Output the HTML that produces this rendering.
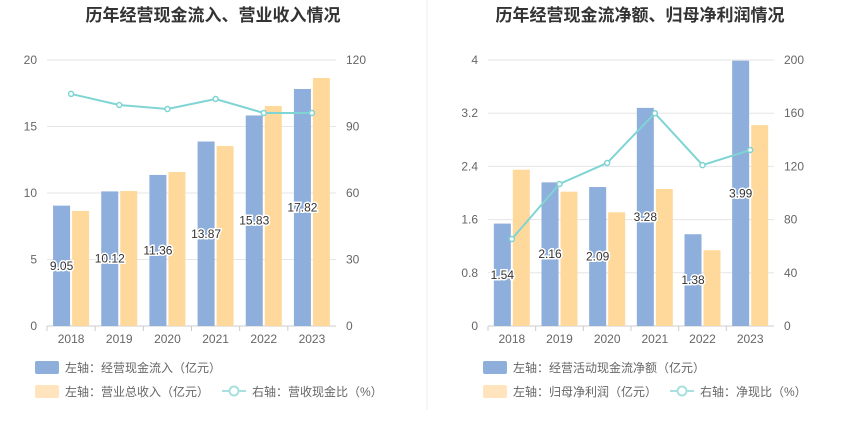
<!DOCTYPE html>
<html><head><meta charset="utf-8"><style>
html,body{margin:0;padding:0;background:#fff;}
svg{display:block;font-family:"Liberation Sans","Noto Sans CJK SC",sans-serif;}
</style></head><body>
<svg id="c" width="850" height="437" xmlns="http://www.w3.org/2000/svg">
<line x1="427" y1="0" x2="427" y2="410" stroke="#eeeeee"/>
<text x="213" y="21" text-anchor="middle" font-size="17" font-weight="bold" fill="#333">历年经营现金流入、营业收入情况</text>
<text x="640" y="21" text-anchor="middle" font-size="17" font-weight="bold" fill="#333">历年经营现金流净额、归母净利润情况</text>
<g id="g1"></g><g id="g2"></g>
</svg>
<script>
const years = ["2018","2019","2020","2021","2022","2023"];
const inflow = [9.05,10.12,11.36,13.87,15.83,17.82];
const revenue = [8.65,10.15,11.58,13.53,16.54,18.65];
const cashRatio = [104.7,99.7,97.9,102.4,96.1,96.1];
const leftTicks1 = [0,5,10,15,20];
const rightTicks1 = [0,30,60,90,120];
const netCash = [1.54,2.16,2.09,3.28,1.38,3.99];
const netProfit = [2.35,2.02,1.71,2.06,1.14,3.02];
const netRatio = [65.4,106.8,122.6,160,121,132.3];
const leftTicks2 = ["0","0.8","1.6","2.4","3.2","4"];
const rightTicks2 = [0,40,80,120,160,200];
const NS="http://www.w3.org/2000/svg";
function mk(p,t,a,txt){const e=document.createElementNS(NS,t);for(const k in a)e.setAttribute(k,a[k]);if(txt!=null)e.textContent=txt;p.appendChild(e);return e;}
function draw(g,cfg){
  const x0=cfg.x0,x1=cfg.x1,yT=60,yB=326;
  const ly=v=>yB-(v/cfg.lmax)*(yB-yT);
  const ry=v=>yB-(v/cfg.rmax)*(yB-yT);
  const bw=(x1-x0)/years.length;
  const xc=i=>x0+bw*(i+0.5);
  cfg.lt.forEach((t,i)=>{const v=parseFloat(t);const y=ly(v);
    const l=mk(g,'line',{x1:x0,x2:x1,y1:y,y2:y,stroke:i===0?'#ccc':'#e6e6e6'});
    
    const tx=mk(g,'text',{x:x0-10,y:y+4,'text-anchor':'end','font-size':12,fill:'#666'},t);
    });
  cfg.rt.forEach(t=>{const tx=mk(g,'text',{x:x1+10,y:ry(t)+4,'font-size':12,fill:'#666'},t);
    });
  years.forEach((yv,i)=>{const tx=mk(g,'text',{x:xc(i),y:yB+17,'text-anchor':'middle','font-size':12,fill:'#666'},yv);
    
    const tk=mk(g,'line',{x1:x0+bw*i,x2:x0+bw*i,y1:yB,y2:yB+5,stroke:'#ccc'});
    });
  cfg.a.forEach((v,i)=>{const r=mk(g,'rect',{x:xc(i)-18,y:ly(v),width:17,height:yB-ly(v),fill:'#8eaedb'});
    });
  cfg.b.forEach((v,i)=>{const r=mk(g,'rect',{x:xc(i)+1,y:ly(v),width:17,height:yB-ly(v),fill:'#ffd99b'});
    });
  const pts=cfg.c.map((v,i)=>xc(i)+','+ry(v)).join(' ');
  const pl=mk(g,'polyline',{points:pts,fill:'none',stroke:'#7fd4d4','stroke-width':2});
  
  cfg.c.forEach((v,i)=>{const c=mk(g,'circle',{cx:xc(i),cy:ry(v),r:2.5,fill:'#fff',stroke:'#7fd4d4','stroke-width':1.5});
    });
  cfg.a.forEach((v,i)=>{const tx=mk(g,'text',{x:xc(i)-9.5,y:(ly(v)+yB)/2+4,'text-anchor':'middle','font-size':12,fill:'#333',stroke:'#fff','stroke-width':3,'paint-order':'stroke'},v.toFixed(2));
    });
  const lx=cfg.lx;
  const items=[[lx,367,'#8eaedb',cfg.l1],[lx,391,'#ffe4bd',cfg.l2]];
  items.forEach(it=>{const r=mk(g,'rect',{x:it[0],y:it[1]-6,width:24,height:13,fill:it[2],rx:2});
    
    const t=mk(g,'text',{x:it[0]+30,y:it[1]+5,'font-size':12,fill:'#666'},it[3]);
    });
  const ll=mk(g,'line',{x1:lx+187,x2:lx+211,y1:391,y2:391,stroke:'#a8e0e0','stroke-width':2});
  
  const lc=mk(g,'circle',{cx:lx+199,cy:391,r:4.5,fill:'#fff',stroke:'#a8e0e0','stroke-width':2});
  
  const lt=mk(g,'text',{x:lx+217,y:396,'font-size':12,fill:'#666'},cfg.l3);
  
}
draw(document.getElementById('g1'),{x0:47,x1:336,lmax:20,rmax:120,lt:leftTicks1.map(String),rt:rightTicks1,a:inflow,b:revenue,c:cashRatio,lx:35,l1:'左轴：经营现金流入（亿元）',l2:'左轴：营业总收入（亿元）',l3:'右轴：营收现金比（%）'});
draw(document.getElementById('g2'),{x0:488,x1:774,lmax:4,rmax:200,lt:leftTicks2,rt:rightTicks2,a:netCash,b:netProfit,c:netRatio,lx:483,l1:'左轴：经营活动现金流净额（亿元）',l2:'左轴：归母净利润（亿元）',l3:'右轴：净现比（%）'});
</script>
</body></html>
